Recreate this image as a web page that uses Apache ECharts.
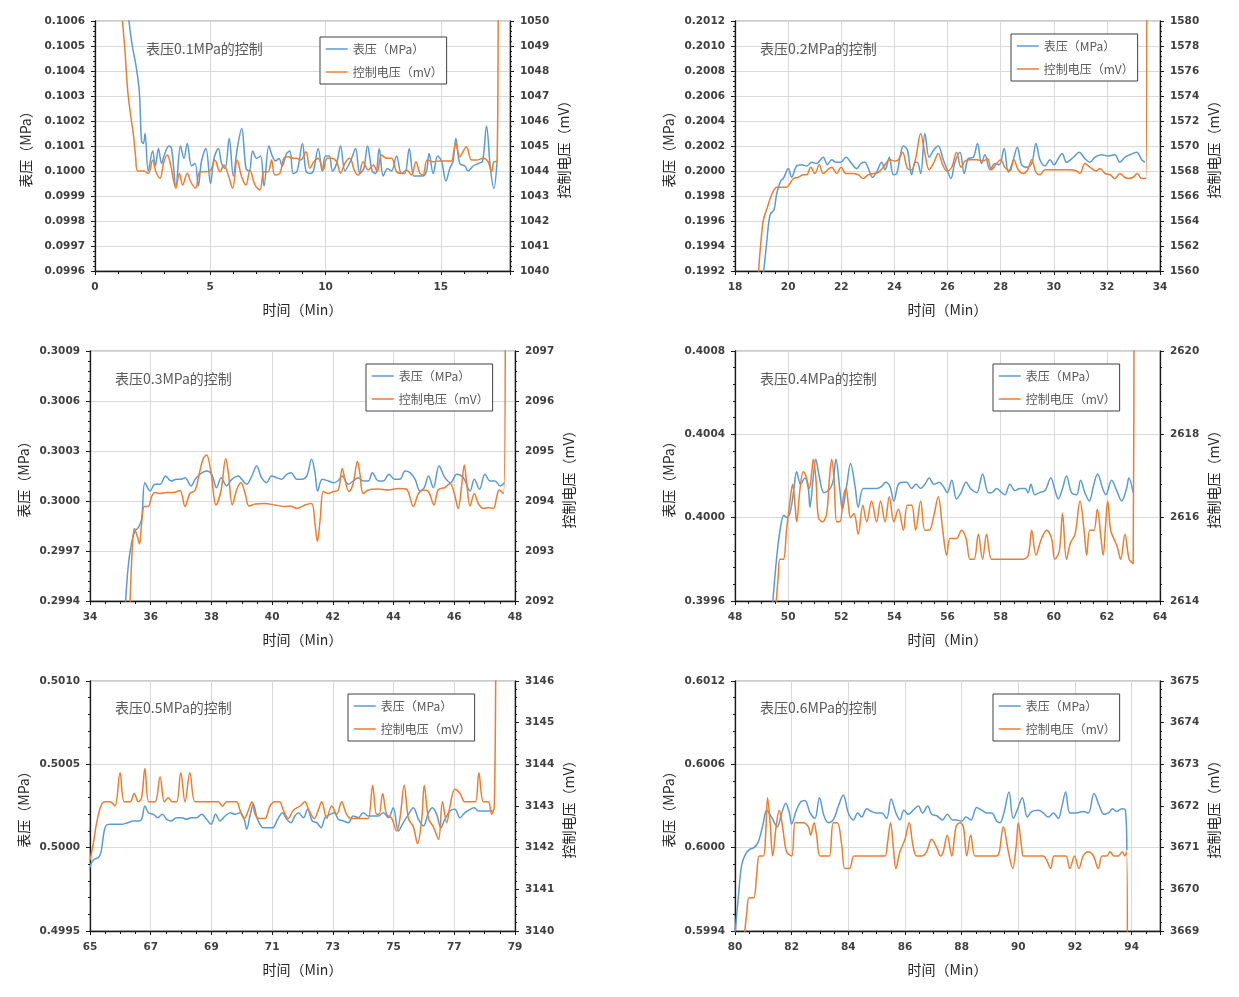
<!DOCTYPE html>
<html><head><meta charset="utf-8">
<script src="https://cdn.jsdelivr.net/npm/echarts@6/dist/echarts.min.js"></script>
<style>html,body{margin:0;padding:0;background:#fff}#chart{width:1239px;height:997px}</style>
</head><body><div id="chart"></div>
<script>
// ---------------- DATA ----------------
const seriesNames = ['表压（MPa）', '控制电压（mV）'];
const panelTitles = ['表压0.1MPa的控制','表压0.2MPa的控制','表压0.3MPa的控制','表压0.4MPa的控制','表压0.5MPa的控制','表压0.6MPa的控制'];
const xRanges = [[0,18,5],[18,34,2],[34,48,2],[48,64,2],[65,79,2],[80,95,2]];
const pressureRanges = [[0.0996,0.1006,0.0001],[0.1992,0.2012,0.0002],[0.2994,0.3009,0.0003],[0.3996,0.4008,0.0004],[0.4995,0.5010,0.0005],[0.5994,0.6012,0.0006]];
const voltageRanges = [[1040,1050,1],[1560,1580,2],[2092,2097,1],[2614,2620,2],[3140,3146,1],[3669,3675,1]];

const p1Pressure = [[1.45,0.10062],[1.6,0.10051],[1.78,0.10042],[1.92,0.10032],[2.02,0.10012],[2.1,0.10011],[2.17,0.10015],[2.31,0.10000],[2.5,0.10008],[2.62,0.10002],[2.75,0.10009],[2.89,0.10003],[2.99,0.10006],[3.21,0.10010],[3.32,0.10009],[3.51,0.09994],[3.71,0.10010],[3.86,0.10005],[4.0,0.10011],[4.19,0.10002],[4.34,0.10003],[4.48,0.09994],[4.62,0.10004],[4.81,0.10009],[5.01,0.09995],[5.16,0.10005],[5.35,0.10009],[5.49,0.10003],[5.64,0.10001],[5.82,0.10013],[6.0,0.09998],[6.17,0.10009],[6.36,0.10017],[6.55,0.10001],[6.69,0.10000],[6.84,0.10008],[7.01,0.10005],[7.18,0.10006],[7.33,0.09994],[7.54,0.10010],[7.69,0.10006],[7.83,0.10004],[7.98,0.10005],[8.12,0.10002],[8.31,0.10007],[8.45,0.10008],[8.6,0.09999],[8.77,0.10000],[9.0,0.10011],[9.15,0.10000],[9.32,0.09999],[9.47,0.10000],[9.68,0.10009],[9.86,0.10000],[10.0,0.10006],[10.16,0.10006],[10.3,0.10000],[10.48,0.10003],[10.65,0.10010],[10.84,0.10000],[10.98,0.10002],[11.13,0.10005],[11.3,0.10009],[11.49,0.09999],[11.66,0.10001],[11.82,0.10010],[12.02,0.10000],[12.17,0.09999],[12.33,0.10009],[12.5,0.09998],[12.69,0.10001],[12.86,0.10000],[13.08,0.10006],[13.29,0.09999],[13.44,0.09999],[13.63,0.10009],[13.83,0.09998],[14.02,0.09998],[14.21,0.09998],[14.38,0.10000],[14.49,0.10007],[14.67,0.09999],[14.86,0.10006],[15.03,0.10004],[15.22,0.09996],[15.39,0.10001],[15.53,0.10004],[15.65,0.10013],[15.82,0.10003],[16.04,0.10002],[16.18,0.10000],[16.4,0.10002],[16.62,0.10003],[16.81,0.10004],[16.98,0.10018],[17.15,0.10001],[17.3,0.09993],[17.44,0.10004]];
const p1Voltage = [[1.19,1050.0],[1.3,1048.8],[1.42,1047.2],[1.55,1046.2],[1.66,1045.5],[1.76,1044.6],[1.85,1044.0],[2.1,1044.0],[2.31,1043.9],[2.5,1044.44],[2.64,1043.97],[2.82,1043.71],[2.99,1044.37],[3.14,1044.64],[3.28,1044.24],[3.51,1043.31],[3.66,1043.91],[3.8,1043.44],[4.0,1043.91],[4.15,1043.57],[4.36,1043.31],[4.55,1043.97],[4.77,1043.97],[4.99,1044.0],[5.2,1044.44],[5.42,1043.97],[5.59,1044.24],[5.78,1043.84],[5.97,1043.31],[6.17,1044.44],[6.36,1043.77],[6.55,1043.44],[6.72,1044.04],[6.94,1043.44],[7.15,1043.24],[7.33,1043.97],[7.51,1043.97],[7.66,1044.44],[7.8,1043.84],[8.02,1043.91],[8.19,1044.51],[8.38,1044.57],[8.57,1044.51],[8.74,1044.51],[8.92,1044.44],[9.15,1044.77],[9.32,1044.11],[9.49,1044.37],[9.68,1044.51],[9.9,1044.04],[10.07,1044.51],[10.26,1044.51],[10.48,1044.37],[10.65,1043.91],[10.84,1044.31],[11.05,1044.51],[11.27,1043.97],[11.42,1043.84],[11.63,1044.37],[11.85,1044.04],[12.07,1044.24],[12.24,1043.97],[12.43,1044.64],[12.64,1044.51],[12.86,1044.51],[13.08,1043.97],[13.29,1043.91],[13.51,1044.04],[13.73,1043.84],[13.92,1044.37],[14.09,1043.91],[14.23,1043.84],[14.41,1044.44],[14.67,1044.37],[14.96,1044.4],[15.25,1044.4],[15.46,1044.4],[15.56,1044.77],[15.65,1045.11],[15.82,1044.57],[16.11,1044.97],[16.33,1044.44],[16.55,1044.44],[16.84,1044.51],[17.05,1044.37],[17.2,1043.97],[17.3,1044.37],[17.44,1044.4],[17.49,1053]];

const p2Pressure = [[19.07,0.19918],[19.19,0.19942],[19.32,0.19965],[19.47,0.19969],[19.57,0.19982],[19.72,0.19992],[19.82,0.19994],[20.01,0.20002],[20.13,0.19995],[20.32,0.20004],[20.51,0.20005],[20.7,0.20004],[20.89,0.20007],[21.07,0.20006],[21.32,0.20011],[21.48,0.20005],[21.64,0.20009],[21.8,0.20007],[21.98,0.20007],[22.18,0.20011],[22.39,0.20006],[22.58,0.20002],[22.74,0.20006],[22.89,0.20007],[23.02,0.20002],[23.18,0.19995],[23.33,0.19999],[23.52,0.20007],[23.65,0.20001],[23.81,0.20011],[23.96,0.19997],[24.09,0.19998],[24.21,0.20011],[24.34,0.20020],[24.49,0.20017],[24.65,0.19997],[24.78,0.20007],[24.86,0.20007],[24.99,0.19998],[25.15,0.20030],[25.31,0.20011],[25.49,0.20017],[25.65,0.20020],[25.84,0.20009],[25.97,0.20002],[26.13,0.19994],[26.28,0.20007],[26.47,0.20015],[26.63,0.19998],[26.78,0.20010],[26.97,0.20011],[27.13,0.20022],[27.28,0.20006],[27.41,0.20013],[27.6,0.20001],[27.79,0.20006],[27.95,0.20005],[28.13,0.20018],[28.29,0.19999],[28.45,0.20007],[28.63,0.20019],[28.79,0.20005],[28.98,0.20003],[29.17,0.20006],[29.33,0.20022],[29.48,0.20009],[29.67,0.20004],[29.86,0.20009],[30.01,0.20005],[30.17,0.20010],[30.32,0.20014],[30.48,0.20007],[30.74,0.20011],[30.96,0.20015],[31.17,0.20010],[31.36,0.20007],[31.55,0.20011],[31.8,0.20013],[32.05,0.20012],[32.3,0.20013],[32.49,0.20007],[32.68,0.20011],[32.87,0.20013],[33.12,0.20015],[33.31,0.20009],[33.43,0.20007]];
const p2Voltage = [[18.88,1559.8],[18.97,1562.2],[19.07,1564.1],[19.22,1565.1],[19.38,1566.1],[19.57,1566.7],[19.76,1566.7],[19.94,1566.7],[20.07,1567.0],[20.2,1567.4],[20.38,1567.5],[20.57,1567.7],[20.7,1567.7],[20.85,1568.3],[21.01,1567.8],[21.17,1568.5],[21.32,1567.8],[21.49,1568.1],[21.64,1568.3],[21.83,1567.8],[21.99,1568.3],[22.18,1567.8],[22.39,1567.8],[22.64,1567.7],[22.83,1567.4],[23.02,1567.7],[23.21,1567.8],[23.4,1567.9],[23.58,1568.3],[23.71,1568.7],[23.83,1568.9],[24.02,1568.8],[24.15,1568.9],[24.31,1569.5],[24.49,1568.2],[24.65,1568.1],[24.81,1569.1],[24.99,1571.0],[25.15,1569.4],[25.31,1568.1],[25.49,1568.7],[25.65,1569.4],[25.82,1568.5],[25.97,1568.0],[26.16,1568.3],[26.34,1569.5],[26.51,1568.3],[26.66,1568.8],[26.85,1568.9],[27.1,1568.9],[27.35,1568.8],[27.5,1569.0],[27.66,1568.1],[27.85,1568.6],[28.0,1568.9],[28.16,1568.3],[28.35,1568.0],[28.5,1568.9],[28.66,1568.1],[28.85,1567.8],[29.02,1568.1],[29.17,1568.9],[29.33,1567.9],[29.48,1567.7],[29.67,1568.1],[29.92,1568.1],[30.23,1568.1],[30.61,1568.1],[30.86,1568.0],[30.99,1567.8],[31.17,1568.6],[31.36,1568.3],[31.59,1568.0],[31.74,1568.2],[31.93,1567.8],[32.12,1567.7],[32.3,1567.4],[32.49,1567.8],[32.66,1567.5],[32.81,1567.4],[32.99,1567.5],[33.14,1567.8],[33.31,1567.4],[33.47,1567.4],[33.5,1584]];

const p3Pressure = [[35.17,0.29939],[35.26,0.29961],[35.37,0.29975],[35.48,0.29982],[35.59,0.29984],[35.7,0.29989],[35.81,0.30011],[35.98,0.30006],[36.14,0.30010],[36.31,0.30010],[36.49,0.30015],[36.67,0.30012],[36.85,0.30013],[37.0,0.30013],[37.13,0.30014],[37.33,0.30009],[37.46,0.30013],[37.62,0.30016],[37.84,0.30018],[38.01,0.30016],[38.17,0.30008],[38.32,0.30014],[38.5,0.30009],[38.67,0.30013],[38.89,0.30015],[39.0,0.30013],[39.16,0.30010],[39.33,0.30015],[39.49,0.30021],[39.65,0.30014],[39.82,0.30011],[39.98,0.30015],[40.15,0.30014],[40.31,0.30013],[40.48,0.30016],[40.62,0.30017],[40.81,0.30013],[40.97,0.30013],[41.14,0.30015],[41.3,0.30025],[41.41,0.30017],[41.5,0.30006],[41.65,0.30013],[41.85,0.30012],[42.02,0.30011],[42.16,0.30012],[42.31,0.30015],[42.51,0.30010],[42.67,0.30012],[42.84,0.30014],[43.0,0.30012],[43.17,0.30012],[43.3,0.30017],[43.5,0.30012],[43.66,0.30012],[43.85,0.30016],[44.03,0.30013],[44.21,0.30013],[44.38,0.30018],[44.54,0.30017],[44.71,0.30013],[44.87,0.30006],[45.01,0.30008],[45.15,0.30015],[45.31,0.30008],[45.5,0.30021],[45.69,0.30014],[45.88,0.30011],[46.08,0.30016],[46.3,0.30014],[46.52,0.30006],[46.66,0.30013],[46.83,0.30007],[47.01,0.30016],[47.18,0.30012],[47.34,0.30012],[47.51,0.30009],[47.65,0.30011]];
const p3Voltage = [[35.32,2091.95],[35.39,2093.02],[35.46,2093.45],[35.56,2093.29],[35.63,2093.14],[35.7,2093.55],[35.79,2093.89],[35.92,2093.89],[36.03,2094.09],[36.14,2094.17],[36.31,2094.15],[36.53,2094.17],[36.75,2094.17],[36.96,2094.21],[37.13,2093.89],[37.29,2094.15],[37.46,2094.21],[37.6,2094.55],[37.73,2094.85],[37.84,2094.92],[37.99,2094.55],[38.15,2093.92],[38.32,2094.22],[38.47,2094.85],[38.56,2094.55],[38.69,2093.92],[38.83,2094.22],[38.97,2094.37],[39.11,2094.15],[39.24,2093.9],[39.44,2093.94],[39.76,2093.95],[40.09,2093.92],[40.42,2093.89],[40.59,2093.9],[40.81,2093.85],[41.08,2093.92],[41.3,2093.95],[41.41,2093.55],[41.49,2093.19],[41.58,2093.62],[41.69,2094.19],[41.85,2094.15],[42.02,2094.19],[42.18,2094.22],[42.31,2094.65],[42.4,2094.42],[42.53,2094.19],[42.67,2094.35],[42.81,2094.79],[42.89,2094.55],[43.0,2094.15],[43.17,2094.22],[43.5,2094.24],[43.83,2094.22],[44.16,2094.25],[44.43,2094.23],[44.65,2093.89],[44.82,2094.15],[44.98,2094.22],[45.15,2094.19],[45.33,2093.92],[45.47,2094.22],[45.69,2094.27],[45.86,2094.35],[46.0,2094.15],[46.13,2093.85],[46.24,2094.29],[46.33,2094.72],[46.41,2094.35],[46.52,2093.9],[46.66,2094.15],[46.79,2093.95],[46.96,2093.85],[47.12,2093.87],[47.29,2093.85],[47.4,2094.09],[47.48,2094.22],[47.62,2094.15],[47.68,2098]];

const p4Pressure = [[49.42,0.39959],[49.57,0.39981],[49.72,0.39996],[49.84,0.40001],[49.97,0.40000],[50.1,0.40004],[50.22,0.40014],[50.32,0.40022],[50.47,0.40016],[50.63,0.40019],[50.76,0.40014],[50.82,0.40005],[50.95,0.40020],[51.04,0.40028],[51.17,0.40020],[51.35,0.40012],[51.58,0.40014],[51.7,0.40018],[51.8,0.40028],[51.95,0.40013],[52.04,0.40004],[52.2,0.40015],[52.35,0.40026],[52.52,0.40015],[52.64,0.40005],[52.83,0.40014],[53.08,0.40014],[53.33,0.40014],[53.52,0.40015],[53.67,0.40017],[53.83,0.40015],[53.98,0.40008],[54.15,0.40016],[54.34,0.40017],[54.46,0.40017],[54.65,0.40014],[54.81,0.40016],[54.99,0.40014],[55.15,0.40016],[55.31,0.40019],[55.49,0.40016],[55.69,0.40017],[55.84,0.40015],[55.99,0.40012],[56.16,0.40018],[56.34,0.40009],[56.51,0.40012],[56.7,0.40017],[56.87,0.40014],[57.1,0.40012],[57.32,0.40021],[57.54,0.40012],[57.66,0.40012],[57.85,0.40014],[58.04,0.40012],[58.16,0.40011],[58.35,0.40016],[58.54,0.40013],[58.73,0.40014],[58.92,0.40014],[59.04,0.40012],[59.14,0.40016],[59.29,0.40011],[59.46,0.40012],[59.67,0.40013],[59.89,0.40019],[60.05,0.40013],[60.17,0.40009],[60.33,0.40014],[60.48,0.40020],[60.67,0.40012],[60.86,0.40011],[61.01,0.40018],[61.17,0.40012],[61.34,0.40008],[61.49,0.40015],[61.65,0.40021],[61.84,0.40014],[61.96,0.40011],[62.18,0.40018],[62.37,0.40013],[62.56,0.40008],[62.74,0.40014],[62.83,0.40019],[62.99,0.40012]];
const p4Voltage = [[49.54,2613.9],[49.63,2614.6],[49.69,2615.0],[49.82,2615.0],[49.94,2615.7],[50.07,2616.4],[50.17,2616.8],[50.26,2616.3],[50.32,2615.9],[50.45,2616.7],[50.57,2617.1],[50.67,2617.0],[50.8,2616.7],[50.89,2617.1],[50.95,2617.4],[51.05,2616.9],[51.14,2616.0],[51.3,2615.9],[51.45,2616.1],[51.55,2616.9],[51.64,2617.4],[51.73,2616.9],[51.83,2615.9],[51.95,2615.9],[52.08,2616.5],[52.18,2616.7],[52.27,2616.3],[52.35,2616.0],[52.48,2616.1],[52.64,2615.6],[52.81,2616.3],[52.96,2615.9],[53.14,2616.4],[53.33,2615.9],[53.48,2616.4],[53.65,2615.9],[53.81,2616.5],[53.98,2615.9],[54.15,2616.2],[54.34,2615.7],[54.49,2616.3],[54.65,2616.3],[54.8,2615.7],[54.99,2616.4],[55.15,2615.7],[55.31,2615.7],[55.47,2616.0],[55.65,2616.5],[55.82,2615.7],[55.97,2615.1],[56.09,2615.5],[56.22,2615.5],[56.34,2615.5],[56.53,2615.7],[56.7,2615.5],[56.85,2615.0],[57.0,2615.0],[57.16,2615.6],[57.32,2615.0],[57.47,2615.6],[57.66,2615.0],[57.85,2615.0],[58.1,2615.0],[58.35,2615.0],[58.6,2615.0],[58.85,2615.0],[59.04,2615.1],[59.17,2615.7],[59.33,2615.1],[59.54,2615.5],[59.73,2615.7],[59.92,2615.5],[60.04,2615.0],[60.21,2615.2],[60.33,2616.1],[60.48,2615.0],[60.63,2615.4],[60.8,2615.6],[60.99,2616.4],[61.14,2615.7],[61.24,2615.1],[61.36,2615.7],[61.51,2615.7],[61.64,2616.2],[61.78,2615.5],[61.86,2615.1],[61.96,2615.9],[62.03,2616.4],[62.14,2615.7],[62.26,2615.5],[62.39,2615.3],[62.52,2615.0],[62.68,2615.6],[62.84,2615.0],[62.99,2614.9],[63.02,2622]];

const p5Pressure = [[65.0,0.49988],[65.05,0.49991],[65.14,0.49993],[65.27,0.49994],[65.36,0.49997],[65.44,0.50007],[65.52,0.50013],[65.66,0.50014],[65.82,0.50014],[66.04,0.50014],[66.24,0.50015],[66.43,0.50016],[66.59,0.50016],[66.7,0.50017],[66.81,0.50025],[66.92,0.50021],[67.09,0.50020],[67.23,0.50018],[67.38,0.50020],[67.53,0.50017],[67.67,0.50016],[67.85,0.50018],[68.02,0.50018],[68.18,0.50017],[68.33,0.50018],[68.51,0.50018],[68.68,0.50020],[68.84,0.50017],[68.99,0.50014],[69.14,0.50020],[69.28,0.50016],[69.45,0.50019],[69.63,0.50021],[69.78,0.50020],[69.94,0.50021],[70.08,0.50017],[70.16,0.50011],[70.27,0.50019],[70.38,0.50026],[70.52,0.50017],[70.71,0.50012],[70.87,0.50012],[71.02,0.50012],[71.18,0.50017],[71.34,0.50021],[71.48,0.50017],[71.62,0.50015],[71.75,0.50019],[71.86,0.50021],[72.03,0.50018],[72.17,0.50023],[72.32,0.50016],[72.47,0.50015],[72.61,0.50012],[72.74,0.50018],[72.91,0.50020],[73.05,0.50021],[73.18,0.50017],[73.35,0.50016],[73.51,0.50015],[73.67,0.50019],[73.84,0.50018],[74.0,0.50021],[74.17,0.50019],[74.33,0.50019],[74.5,0.50019],[74.66,0.50021],[74.83,0.50018],[74.99,0.50024],[75.16,0.50010],[75.32,0.50015],[75.49,0.50020],[75.65,0.50024],[75.82,0.50017],[75.98,0.50013],[76.15,0.50021],[76.28,0.50024],[76.42,0.50020],[76.56,0.50012],[76.69,0.50017],[76.86,0.50022],[77.02,0.50023],[77.19,0.50018],[77.35,0.50021],[77.52,0.50023],[77.66,0.50024],[77.79,0.50022],[77.96,0.50022],[78.12,0.50022],[78.29,0.50022]];
const p5Voltage = [[65.0,3141.7],[65.11,3142.1],[65.22,3142.6],[65.36,3143.0],[65.49,3143.1],[65.66,3143.1],[65.82,3143.0],[65.99,3143.8],[66.13,3143.1],[66.32,3143.1],[66.46,3143.3],[66.59,3143.1],[66.7,3143.2],[66.81,3143.9],[66.94,3143.1],[67.14,3143.1],[67.31,3143.7],[67.45,3143.1],[67.58,3143.2],[67.71,3143.1],[67.85,3143.1],[67.99,3143.8],[68.13,3143.1],[68.29,3143.8],[68.46,3143.1],[68.68,3143.1],[68.9,3143.1],[69.06,3143.1],[69.23,3143.1],[69.36,3143.0],[69.5,3143.1],[69.67,3143.1],[69.83,3143.1],[69.94,3142.9],[70.08,3142.7],[70.22,3142.9],[70.33,3143.1],[70.44,3142.8],[70.57,3142.7],[70.76,3142.7],[70.93,3143.0],[71.09,3143.1],[71.24,3143.1],[71.37,3142.9],[71.53,3142.7],[71.7,3142.9],[71.92,3143.0],[72.08,3143.1],[72.21,3142.9],[72.39,3142.7],[72.52,3142.9],[72.63,3143.1],[72.8,3142.7],[72.96,3143.0],[73.13,3142.8],[73.29,3143.1],[73.45,3142.8],[73.62,3142.7],[73.84,3142.7],[74.06,3142.7],[74.17,3142.7],[74.31,3143.5],[74.44,3142.8],[74.52,3142.8],[74.64,3143.3],[74.77,3142.8],[74.94,3142.7],[75.1,3142.4],[75.21,3142.7],[75.35,3143.5],[75.49,3142.7],[75.65,3142.5],[75.79,3142.1],[75.93,3142.7],[76.01,3143.5],[76.15,3142.7],[76.31,3142.5],[76.48,3142.2],[76.61,3143.1],[76.75,3142.6],[76.86,3143.0],[77.02,3143.4],[77.19,3143.3],[77.35,3143.1],[77.57,3143.1],[77.7,3143.1],[77.81,3143.8],[77.96,3143.1],[78.12,3143.1],[78.23,3142.8],[78.32,3143.0],[78.37,3148]];

const p6Pressure = [[80.0,0.59938],[80.12,0.59965],[80.24,0.59988],[80.39,0.59996],[80.53,0.59999],[80.67,0.60000],[80.82,0.60004],[80.98,0.60016],[81.12,0.60027],[81.29,0.60022],[81.49,0.60015],[81.65,0.60025],[81.79,0.60032],[81.92,0.60025],[82.0,0.60017],[82.15,0.60026],[82.32,0.60033],[82.47,0.60034],[82.65,0.60025],[82.82,0.60021],[82.98,0.60036],[83.14,0.60023],[83.29,0.60018],[83.47,0.60020],[83.65,0.60030],[83.82,0.60038],[84.0,0.60025],[84.18,0.60020],[84.33,0.60025],[84.47,0.60022],[84.65,0.60028],[84.82,0.60026],[85.0,0.60025],[85.18,0.60025],[85.35,0.60021],[85.51,0.60035],[85.68,0.60025],[85.82,0.60020],[85.96,0.60027],[86.12,0.60024],[86.29,0.60027],[86.47,0.60030],[86.62,0.60025],[86.8,0.60030],[86.94,0.60024],[87.12,0.60023],[87.32,0.60020],[87.49,0.60024],[87.68,0.60020],[87.82,0.60020],[88.0,0.60019],[88.15,0.60022],[88.33,0.60020],[88.53,0.60029],[88.71,0.60027],[88.88,0.60025],[89.06,0.60025],[89.24,0.60019],[89.35,0.60018],[89.49,0.60025],[89.67,0.60040],[89.82,0.60021],[89.96,0.60027],[90.14,0.60036],[90.32,0.60022],[90.47,0.60026],[90.71,0.60027],[90.88,0.60025],[91.06,0.60022],[91.24,0.60025],[91.41,0.60021],[91.53,0.60029],[91.67,0.60040],[91.82,0.60025],[92.04,0.60025],[92.29,0.60026],[92.47,0.60025],[92.67,0.60039],[92.86,0.60030],[93.02,0.60024],[93.18,0.60025],[93.33,0.60028],[93.47,0.60026],[93.65,0.60028],[93.78,0.60027],[93.83,0.59998]];
const p6Voltage = [[80.33,3668.9],[80.41,3669.4],[80.49,3669.8],[80.59,3669.8],[80.67,3669.8],[80.76,3670.3],[80.86,3670.8],[81.0,3670.8],[81.08,3671.3],[81.15,3672.2],[81.24,3671.6],[81.33,3670.8],[81.45,3671.5],[81.56,3671.9],[81.68,3671.5],[81.82,3670.9],[82.0,3670.8],[82.12,3671.6],[82.24,3671.6],[82.41,3671.6],[82.59,3671.5],[82.67,3671.3],[82.79,3671.6],[82.88,3671.3],[83.0,3670.8],[83.18,3670.8],[83.33,3670.8],[83.47,3671.6],[83.61,3671.6],[83.76,3671.1],[83.88,3670.5],[84.04,3670.5],[84.2,3670.8],[84.41,3670.8],[84.76,3670.8],[85.06,3670.8],[85.29,3670.8],[85.38,3671.1],[85.49,3671.6],[85.59,3671.0],[85.68,3670.5],[85.82,3670.9],[86.0,3671.2],[86.15,3671.6],[86.27,3671.1],[86.41,3670.8],[86.59,3670.8],[86.76,3670.9],[86.94,3671.2],[87.12,3671.0],[87.26,3670.8],[87.35,3670.9],[87.49,3671.3],[87.65,3670.8],[87.8,3671.5],[87.94,3671.6],[88.06,3671.5],[88.18,3670.8],[88.32,3671.3],[88.47,3670.8],[88.65,3670.8],[88.82,3670.8],[89.06,3670.8],[89.24,3670.8],[89.33,3670.9],[89.47,3671.5],[89.65,3670.9],[89.8,3670.5],[89.92,3671.0],[90.0,3671.6],[90.12,3671.0],[90.18,3670.8],[90.41,3670.8],[90.65,3670.8],[90.88,3670.8],[91.0,3670.7],[91.14,3670.5],[91.26,3670.8],[91.41,3670.8],[91.59,3670.8],[91.68,3670.8],[91.82,3670.5],[91.98,3670.8],[92.14,3670.5],[92.29,3670.8],[92.47,3670.9],[92.65,3670.8],[92.82,3670.5],[92.96,3670.8],[93.12,3670.8],[93.24,3670.9],[93.38,3670.8],[93.53,3670.8],[93.67,3670.9],[93.76,3670.8],[93.82,3670.9],[93.85,3668]];

const pressureData = [p1Pressure, p2Pressure, p3Pressure, p4Pressure, p5Pressure, p6Pressure];
const voltageData = [p1Voltage, p2Voltage, p3Voltage, p4Voltage, p5Voltage, p6Voltage];

// ---------------- LAYOUT / STYLE ----------------
const layout = [
  {grid:[95,21,415,250],  legend:[320,37],   title:[146,49],  lgap:62, xminor:5},
  {grid:[735,21,425,250], legend:[1011,34],  title:[760,49],  lgap:59, xminor:4},
  {grid:[90,351,425,250], legend:[366,364],  title:[115,379], lgap:59, xminor:4},
  {grid:[735,351,425,250],legend:[993,364],  title:[760,379], lgap:59, xminor:4},
  {grid:[90,681,425,250], legend:[348,694],  title:[115,708], lgap:59, xminor:4},
  {grid:[735,681,425,250],legend:[993,694],  title:[760,708], lgap:59, xminor:4}
];
const BLUE = '#5B9BD5', ORANGE = '#ED7D31';
const CJK = '"Noto Sans CJK SC", "Noto Sans", sans-serif';
const tickFont = {fontFamily:'"DejaVu Sans", sans-serif', fontWeight:'bold', fontSize:10.5, color:'#404040'};
const axisLineStyle = {color:'#1a1a1a', width:1.3};
const nameStyle = {fontFamily:CJK, fontSize:14, color:'#262626'};

const grids = [], xAxes = [], yAxes = [], series = [], legends = [], graphics = [];
layout.forEach((L, i) => {
  grids.push({left:L.grid[0], top:L.grid[1], width:L.grid[2], height:L.grid[3], show:true, borderColor:'#9a9a9a', borderWidth:1, containLabel:false});
  const xr = xRanges[i], pr = pressureRanges[i], vr = voltageRanges[i];
  xAxes.push({type:'value', gridIndex:i, min:xr[0], max:xr[1], interval:xr[2],
    name:'时间（Min）', nameLocation:'middle', nameGap:32, nameTextStyle:nameStyle,
    axisLine:{show:true, onZero:false, lineStyle:axisLineStyle},
    axisTick:{show:true, length:4, lineStyle:{color:'#1a1a1a'}},
    minorTick:{show:true, splitNumber:L.xminor, length:3, lineStyle:{color:'#1a1a1a'}},
    splitLine:{show:true, lineStyle:{color:'#d9d9d9', width:1}},
    axisLabel:Object.assign({margin:11, showMaxLabel: (xr[1]-xr[0]) % xr[2] === 0, formatter: v => String(Math.round(v))}, tickFont)
  });
  yAxes.push({type:'value', gridIndex:i, position:'left', min:pr[0], max:pr[1], interval:pr[2],
    name:'表压（MPa）', nameLocation:'middle', nameGap:L.lgap, nameTextStyle:nameStyle,
    axisLine:{show:true, onZero:false, lineStyle:axisLineStyle},
    axisTick:{show:true, length:4, lineStyle:{color:'#1a1a1a'}},
    minorTick:{show:true, splitNumber:5, length:2, lineStyle:{color:'#1a1a1a'}},
    splitLine:{show:true, lineStyle:{color:'#d9d9d9', width:1}},
    axisLabel:Object.assign({margin:10, formatter: v => v.toFixed(4)}, tickFont)
  });
  yAxes.push({type:'value', gridIndex:i, position:'right', min:vr[0], max:vr[1], interval:vr[2],
    name:'控制电压（mV）', nameLocation:'middle', nameGap:47, nameTextStyle:nameStyle,
    axisLine:{show:true, onZero:false, lineStyle:axisLineStyle},
    axisTick:{show:true, length:4, lineStyle:{color:'#1a1a1a'}},
    minorTick:{show:true, splitNumber:5, length:2, lineStyle:{color:'#1a1a1a'}},
    splitLine:{show:false},
    axisLabel:Object.assign({margin:10, formatter: v => String(Math.round(v))}, tickFont)
  });
  series.push({type:'line', name:seriesNames[0], xAxisIndex:i, yAxisIndex:2*i, data:pressureData[i],
    smooth:0.35, symbol:'none', clip:true, lineStyle:{color:BLUE, width:1.5}, itemStyle:{color:BLUE}, z:2});
  series.push({type:'line', name:seriesNames[1], xAxisIndex:i, yAxisIndex:2*i+1, data:voltageData[i],
    smooth:0.35, symbol:'none', clip:true, lineStyle:{color:ORANGE, width:1.5}, itemStyle:{color:ORANGE}, z:3});
  legends.push({left:L.legend[0], top:L.legend[1], orient:'vertical', data:seriesNames, selectedMode:false,
    itemWidth:22, itemHeight:14, itemGap:11, padding:[6,4,6,5], borderColor:'#404040', borderWidth:1,
    itemStyle:{opacity:0}, lineStyle:{width:1.5},
    backgroundColor:'#fff', textStyle:{fontFamily:CJK, fontSize:12, color:'#595959'}});
  graphics.push({type:'text', x:L.title[0], y:L.title[1], z:10,
    style:{text:panelTitles[i], fill:'#595959', fontFamily:CJK, fontSize:14, verticalAlign:'middle'}});
});

const chart = echarts.init(document.getElementById('chart'), null, {renderer:'canvas'});
chart.setOption({
  backgroundColor:'#fff',
  animation:false,
  grid:grids, xAxis:xAxes, yAxis:yAxes, series:series, legend:legends, graphic:graphics
});
</script></body></html>
